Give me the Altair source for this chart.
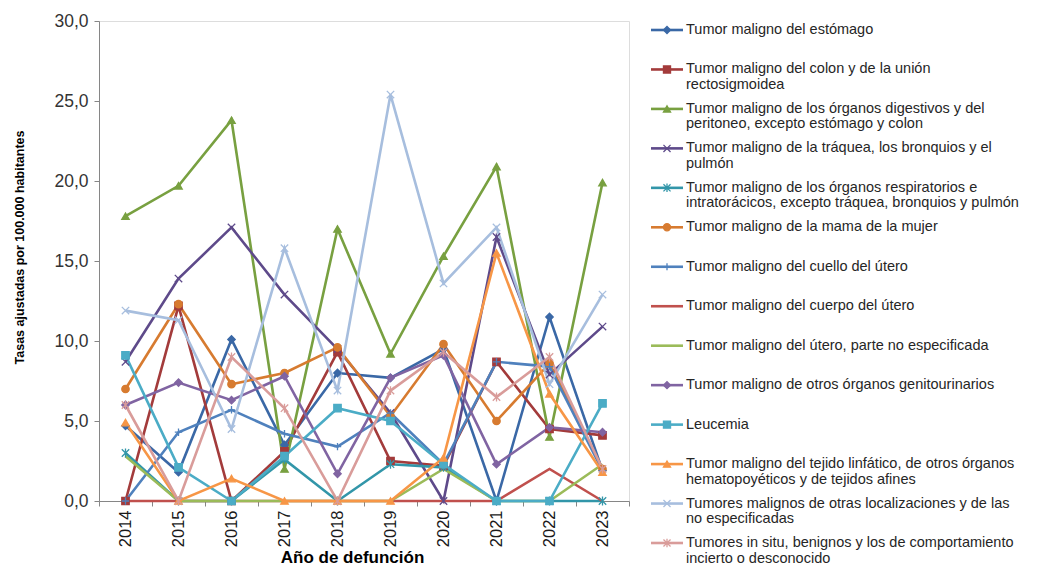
import altair as alt
import pandas as pd

years = [2014, 2015, 2016, 2017, 2018, 2019, 2020, 2021, 2022, 2023]

series_names = [
    "Tumor maligno del estómago",
    "Tumor maligno del colon y de la unión rectosigmoidea",
    "Tumor maligno de los órganos digestivos y del peritoneo, excepto estómago y colon",
    "Tumor maligno de la tráquea, los bronquios y el pulmón",
    "Tumor maligno de los órganos respiratorios e intratorácicos, excepto tráquea, bronquios y pulmón",
    "Tumor maligno de la mama de la mujer",
    "Tumor maligno del cuello del útero",
    "Tumor maligno del cuerpo del útero",
    "Tumor maligno del útero, parte no especificada",
    "Tumor maligno de otros órganos genitourinarios",
    "Leucemia",
    "Tumor maligno del tejido linfático, de otros órganos hematopoyéticos y de tejidos afines",
    "Tumores malignos de otras localizaciones y de las no especificadas",
    "Tumores in situ, benignos y los de comportamiento incierto o desconocido",
]

legend_line1 = [
    "Tumor maligno del estómago",
    "Tumor maligno del colon y de la unión",
    "Tumor maligno de los órganos digestivos y del",
    "Tumor maligno de la tráquea, los bronquios y el",
    "Tumor maligno de los órganos respiratorios e",
    "Tumor maligno de la mama de la mujer",
    "Tumor maligno del cuello del útero",
    "Tumor maligno del cuerpo del útero",
    "Tumor maligno del útero, parte no especificada",
    "Tumor maligno de otros órganos genitourinarios",
    "Leucemia",
    "Tumor maligno del tejido linfático, de otros órganos",
    "Tumores malignos de otras localizaciones y de las",
    "Tumores in situ, benignos y los de comportamiento",
]
legend_line2 = [
    "",
    "rectosigmoidea",
    "peritoneo, excepto estómago y colon",
    "pulmón",
    "intratorácicos, excepto tráquea, bronquios y pulmón",
    "",
    "",
    "",
    "",
    "",
    "",
    "hematopoyéticos y de tejidos afines",
    "no especificadas",
    "incierto o desconocido",
]

estomago = [4.7, 1.8, 10.1, 3.5, 8.0, 7.7, 9.5, 0.0, 11.5, 1.9]
colon = [0.0, 12.2, 0.0, 3.1, 9.3, 2.5, 2.2, 8.7, 4.5, 4.1]
digestivos = [17.8, 19.7, 23.8, 2.0, 17.0, 9.2, 15.3, 20.9, 4.0, 19.9]
traquea = [8.7, 13.9, 17.1, 12.9, 9.5, 5.5, 0.0, 16.5, 7.9, 10.9]
respiratorios = [3.0, 0.0, 0.0, 2.6, 0.0, 2.3, 2.1, 0.0, 0.0, 0.0]
mama = [7.0, 12.3, 7.3, 8.0, 9.6, 5.3, 9.8, 5.0, 8.6, 2.0]
cuello_utero = [0.0, 4.3, 5.7, 4.2, 3.4, 5.5, 2.3, 8.7, 8.4, 1.9]
cuerpo_utero = [0.0, 0.0, 0.0, 0.0, 0.0, 0.0, 0.0, 0.0, 2.0, 0.0]
utero_ne = [2.8, 0.0, 0.0, 0.0, 0.0, 0.0, 2.0, 0.0, 0.0, 2.3]
genitourinarios = [6.0, 7.4, 6.3, 7.8, 1.7, 7.7, 9.1, 2.3, 4.6, 4.3]
leucemia = [9.1, 2.1, 0.0, 2.8, 5.8, 5.0, 2.3, 0.0, 0.0, 6.1]
linfatico = [4.9, 0.0, 1.4, 0.0, 0.0, 0.0, 2.7, 15.5, 6.7, 1.8]
otras_localizaciones = [11.9, 11.3, 4.5, 15.8, 6.9, 25.4, 13.6, 17.1, 7.3, 12.9]
in_situ = [6.0, 0.0, 9.0, 5.8, 0.0, 6.9, 9.3, 6.5, 9.0, 2.0]

series_values = [estomago, colon, digestivos, traquea, respiratorios, mama,
                 cuello_utero, cuerpo_utero, utero_ne, genitourinarios,
                 leucemia, linfatico, otras_localizaciones, in_situ]

series_colors = ["#3A68A6", "#A33B3B", "#78A040", "#5E4A8A", "#3296A9", "#D77B30",
                 "#4F81BD", "#C0504D", "#9BBB59", "#8064A2", "#4BACC6", "#F79646",
                 "#A7BEDE", "#D99C9A"]

X_PATH = "M-1,-1L1,1M-1,1L1,-1"
AST_PATH = "M-1,-1L1,1M-1,1L1,-1M0,-1.2L0,1.2"
PLUS_PATH = "M0,-1L0,1M-1,0L1,0"
series_shapes = ["diamond", "square", "triangle-up", X_PATH, AST_PATH, "circle",
                 PLUS_PATH, "", "", "diamond", "square", "triangle-up", X_PATH, AST_PATH]

rows = []
for i, (name, vals) in enumerate(zip(series_names, series_values)):
    for yr, v in zip(years, vals):
        rows.append({"serie": name, "year": str(yr), "rate": v, "idx": i,
                     "marker": series_shapes[i] != ""})
df = pd.DataFrame(rows)

leg = pd.DataFrame({"serie": series_names, "idx": list(range(len(series_names))),
                    "l1": legend_line1, "l2": legend_line2,
                    "marker": [s != "" for s in series_shapes]})

mk_domain = [n for n, s in zip(series_names, series_shapes) if s != ""]
mk_range = [s for s in series_shapes if s != ""]

color_scale = alt.Scale(domain=series_names, range=series_colors)
shape_scale = alt.Scale(domain=mk_domain, range=mk_range)

FONT = "Liberation Sans"

x_enc = alt.X(
    "year:O",
    bandPosition=0.5,
    scale=alt.Scale(type="band", paddingInner=0, paddingOuter=0),
    axis=alt.Axis(
        title="Año de defunción",
        tickBand="extent",
        labelAngle=-90,
        labelFont=FONT,
        labelFontSize=16.5,
        labelColor="#1a1a1a",
        labelPadding=4,
        tickSize=5,
        tickColor="#868686",
        domainColor="#868686",
        titleFont=FONT,
        titleFontSize=17,
        titleFontWeight="bold",
        titleColor="#000000",
        titleX=253,
        titleY=61,
        titleAnchor="middle",
        titleAlign="center",
        titleBaseline="alphabetic",
    ),
)

y_enc = alt.Y(
    "rate:Q",
    scale=alt.Scale(domain=[0, 30], nice=False),
    axis=alt.Axis(
        title="Tasas ajustadas por 100.000 habitantes",
        values=[0, 5, 10, 15, 20, 25, 30],
        format=".1f",
        labelExpr="replace(datum.label, '.', ',')",
        grid=False,
        labelFont=FONT,
        labelFontSize=17.5,
        labelColor="#333333",
        labelPadding=6,
        tickSize=5,
        tickColor="#868686",
        domainColor="#868686",
        titleFont=FONT,
        titleFontSize=12.5,
        titleFontWeight="bold",
        titleColor="#000000",
        titleAngle=-90,
        titleX=-80,
        titleY=226,
        titleAlign="center",
        titleBaseline="middle",
    ),
)

lines = alt.Chart(df).mark_line(strokeWidth=2.6).encode(
    x=x_enc,
    y=y_enc,
    color=alt.Color("serie:N", scale=color_scale, legend=None),
    detail="idx:N",
)

points = alt.Chart(df).transform_filter("datum.marker").mark_point(
    filled=True, size=55, strokeWidth=1.3, opacity=1
).encode(
    x=x_enc,
    y=alt.Y("rate:Q", scale=alt.Scale(domain=[0, 30], nice=False), axis=None),
    fill=alt.Fill("serie:N", scale=color_scale, legend=None),
    stroke=alt.Stroke("serie:N", scale=color_scale, legend=None),
    shape=alt.Shape("serie:N", scale=shape_scale, legend=None),
)

leg_y = alt.Y("idx:Q", scale=alt.Scale(domain=[0, 13], range=[9, 522], nice=False, zero=False), axis=None)

leg_rule = alt.Chart(leg).mark_rule(strokeWidth=2.6).encode(
    x=alt.value(552), x2=alt.value(584), y=leg_y,
    color=alt.Color("serie:N", scale=color_scale, legend=None),
)

leg_pts = alt.Chart(leg).transform_filter("datum.marker").mark_point(
    filled=True, size=50, strokeWidth=1.3, opacity=1
).encode(
    x=alt.value(568), y=leg_y,
    fill=alt.Fill("serie:N", scale=color_scale, legend=None),
    stroke=alt.Stroke("serie:N", scale=color_scale, legend=None),
    shape=alt.Shape("serie:N", scale=shape_scale, legend=None),
)

leg_t1 = alt.Chart(leg).mark_text(
    align="left", baseline="middle", font=FONT, fontSize=14.5, color="#262626"
).encode(x=alt.value(587), y=leg_y, text="l1:N")

leg_t2 = alt.Chart(leg).transform_filter("datum.l2 != ''").mark_text(
    align="left", baseline="middle", font=FONT, fontSize=14.5, color="#262626", dy=15.5
).encode(x=alt.value(587), y=leg_y, text="l2:N")

chart = alt.layer(lines, points, leg_rule, leg_pts, leg_t1, leg_t2).resolve_scale(
    y="independent"
).properties(
    width=530,
    height=480,
    padding={"left": 91, "top": 13, "right": 400, "bottom": 66},
    autosize=alt.AutoSizeParams(type="none"),
).configure_view(stroke=None).configure(background="white")

chart.save("out.html", embed_options={"renderer": "svg", "actions": False})
